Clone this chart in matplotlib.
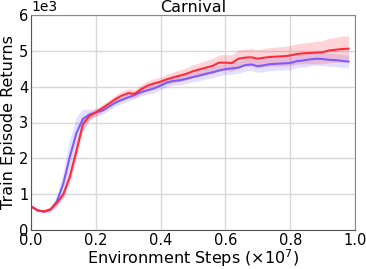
import numpy as np
import matplotlib
matplotlib.use("Agg")
import matplotlib.pyplot as plt

steps = [0.00, 0.02, 0.04, 0.06, 0.08, 0.10, 0.12, 0.14, 0.16, 0.18,
         0.20, 0.22, 0.24, 0.26, 0.28, 0.30, 0.32, 0.34, 0.36, 0.38,
         0.40, 0.42, 0.44, 0.46, 0.48, 0.50, 0.52, 0.54, 0.56, 0.58,
         0.60, 0.62, 0.64, 0.66, 0.68, 0.70, 0.72, 0.74, 0.76, 0.78,
         0.80, 0.82, 0.84, 0.86, 0.88, 0.90, 0.92, 0.94, 0.96, 0.98]

red_mean = [0.66, 0.55, 0.52, 0.58, 0.76, 1.00, 1.49, 2.20, 2.95, 3.18,
            3.28, 3.40, 3.52, 3.65, 3.75, 3.82, 3.80, 3.93, 4.03, 4.09,
            4.14, 4.21, 4.26, 4.31, 4.36, 4.43, 4.48, 4.53, 4.58, 4.67,
            4.67, 4.66, 4.78, 4.81, 4.82, 4.78, 4.81, 4.83, 4.84, 4.85,
            4.87, 4.91, 4.93, 4.94, 4.95, 4.96, 5.01, 5.03, 5.05, 5.06]
red_std = [0.03, 0.03, 0.03, 0.04, 0.06, 0.10, 0.15, 0.20, 0.18, 0.12,
           0.10, 0.10, 0.10, 0.11, 0.12, 0.12, 0.12, 0.13, 0.13, 0.13,
           0.13, 0.14, 0.15, 0.16, 0.17, 0.18, 0.19, 0.20, 0.21, 0.22,
           0.22, 0.23, 0.24, 0.24, 0.25, 0.25, 0.26, 0.26, 0.27, 0.27,
           0.28, 0.28, 0.29, 0.30, 0.31, 0.32, 0.34, 0.35, 0.36, 0.36]

blue_mean = [0.66, 0.55, 0.51, 0.56, 0.80, 1.30, 2.05, 2.70, 3.10, 3.22,
             3.28, 3.33, 3.44, 3.55, 3.63, 3.70, 3.77, 3.85, 3.90, 3.95,
             4.03, 4.12, 4.16, 4.18, 4.22, 4.27, 4.31, 4.36, 4.40, 4.45,
             4.49, 4.51, 4.53, 4.60, 4.62, 4.57, 4.60, 4.63, 4.64, 4.65,
             4.66, 4.71, 4.73, 4.76, 4.78, 4.77, 4.75, 4.74, 4.72, 4.70]
blue_std = [0.03, 0.03, 0.04, 0.06, 0.15, 0.35, 0.50, 0.45, 0.28, 0.15,
            0.11, 0.10, 0.10, 0.10, 0.10, 0.10, 0.10, 0.11, 0.11, 0.12,
            0.12, 0.12, 0.12, 0.13, 0.13, 0.13, 0.14, 0.14, 0.15, 0.15,
            0.15, 0.16, 0.16, 0.17, 0.17, 0.17, 0.18, 0.18, 0.18, 0.18,
            0.18, 0.18, 0.18, 0.18, 0.18, 0.18, 0.18, 0.18, 0.18, 0.18]

x_ticks = [0.0, 0.2, 0.4, 0.6, 0.8, 1.0]
y_ticks = [0, 1000, 2000, 3000, 4000, 5000, 6000]

RED = "#ff2a3c"
BLUE = "#7b5cff"

fig = plt.figure(figsize=(3.66, 2.69), dpi=100)
ax = fig.add_axes([31/366, 1 - 230/269, (355-31)/366, (230-15)/269])

x = np.array(steps)
for mean, std, c in [(blue_mean, blue_std, BLUE), (red_mean, red_std, RED)]:
    m = np.array(mean) * 1000
    s = np.array(std) * 1000
    ax.fill_between(x, m - s, m + s, color=c, alpha=0.2, linewidth=0)
    ax.plot(x, m, color=c, linewidth=1.5)

ax.set_xlim(0, 1.0)
ax.set_ylim(0, 6000)
ax.set_xticks(x_ticks)
ax.set_yticks(y_ticks)
ax.ticklabel_format(axis="y", style="sci", scilimits=(3, 3))
ax.yaxis.get_offset_text().set_fontsize(10)
ax.tick_params(labelsize=10.5, length=0, pad=2)
ax.grid(True, color="#d8d8d8", linewidth=1)
ax.set_axisbelow(True)
for side in ["left", "bottom"]:
    ax.spines[side].set_color("#555555")
for side in ["top", "right"]:
    ax.spines[side].set_color("#888888")
ax.set_title("Carnival", fontsize=11.5, pad=2)
ax.set_xlabel("Environment Steps ($\\times 10^7$)", fontsize=11.5, labelpad=0)
ax.set_ylabel("Train Episode Returns", fontsize=11.5, labelpad=2)

fig.savefig("out.png", dpi=100)
